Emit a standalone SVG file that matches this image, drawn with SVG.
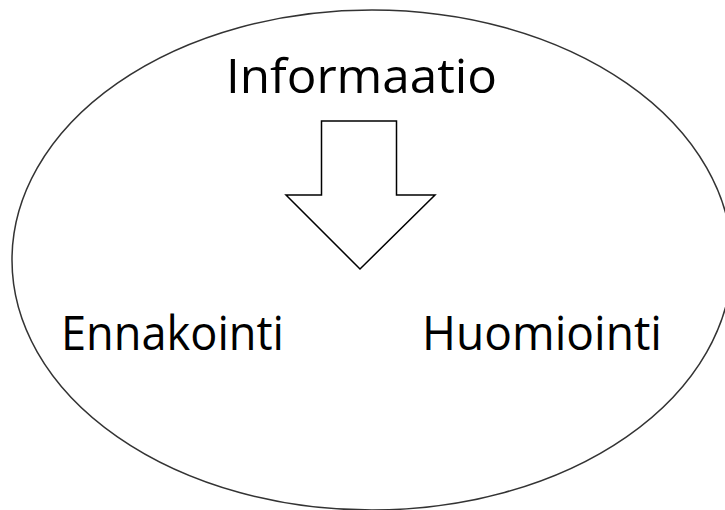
<svg xmlns="http://www.w3.org/2000/svg" width="725" height="510" viewBox="0 0 725 510">
<style>
.lbl{font-family:"Open Sans","Noto Sans","Liberation Sans",sans-serif;font-size:48px;fill:#000}
.outline{fill:none;stroke:#333;stroke-width:1.5}
.arrow{fill:#fff;stroke:#000;stroke-width:1.5;stroke-linejoin:miter}
</style>
<rect width="725" height="510" fill="#fff"/>
<g id="ellipse"><ellipse class="outline" cx="372" cy="260" rx="360" ry="250"/></g>
<g id="informaatio"><text class="lbl" x="226" y="93" textLength="271" lengthAdjust="spacingAndGlyphs">Informaatio</text></g>
<g id="connectors"><polygon class="arrow" points="321.5,121 396.5,121 396.5,195 435,195 360,269 286,195 321.5,195"/></g>
<g id="ennakointi"><text class="lbl" x="61" y="350" textLength="223" lengthAdjust="spacingAndGlyphs">Ennakointi</text></g>
<g id="huomiointi"><text class="lbl" x="422" y="350" textLength="240" lengthAdjust="spacingAndGlyphs">Huomiointi</text></g>
</svg>
